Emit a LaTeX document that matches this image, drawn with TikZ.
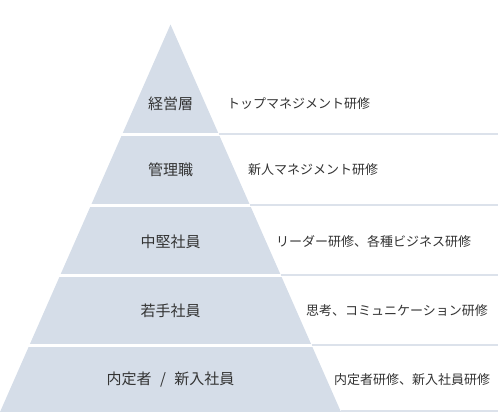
\documentclass[tikz,border=0pt]{standalone}
\usepackage{fontspec}
\newfontfamily\jpfont{Noto Sans CJK JP}
\definecolor{tierfill}{HTML}{D5DDE8}
\definecolor{ruleline}{HTML}{DCE2EB}
\definecolor{txtgray}{HTML}{333333}

\begin{document}
\begin{tikzpicture}[x=1pt,y=-1pt]
      \useasboundingbox (0,0) rectangle (498,412);

      % pyramid
      \fill[tierfill] (170.5,24.5) -- (341,412) -- (0,412) -- cycle;

      % gaps between tiers, rules to the right
      \foreach \y in {134.5,205.5,275.5,345.5} {
        \pgfmathsetmacro{\xl}{170.5-0.44*(\y-24.5)}
        \pgfmathsetmacro{\xr}{170.5+0.44*(\y-24.5)}
        \draw[white, line width=3pt] (\xl-2,\y) -- (\xr+2,\y);
        \draw[ruleline, line width=2pt] (\xr,\y-0.5) -- (498,\y-0.5);
      }
      \draw[ruleline, line width=2pt] (341,411) -- (498,411);

      \begin{scope}[every node/.style={font=\jpfont\fontsize{15}{18}\selectfont, text=txtgray, inner sep=0pt}]
        \node (1) at (170.5,104) {経営層};
        \node (2) at (170.5,170) {管理職};
        \node (3) at (170.5,242) {中堅社員};
        \node (4) at (170.5,311) {若手社員};
        \node (5) at (170.5,380) {内定者\hspace{8.5pt}/\hspace{8.5pt}新入社員};
      \end{scope}

      \begin{scope}[every node/.style={font=\jpfont\fontsize{13}{16}\selectfont, text=txtgray, anchor=west, inner sep=0pt}]
        \node (1r) at (227,104) {トップマネジメント研修};
        \node (2r) at (248,170) {新人マネジメント研修};
        \node (3r) at (276,242) {リーダー研修、各種ビジネス研修};
        \node (4r) at (306,311) {思考、コミュニケーション研修};
        \node (5r) at (334,380) {内定者研修、新入社員研修};
      \end{scope}

    \end{tikzpicture}
\end{document}
